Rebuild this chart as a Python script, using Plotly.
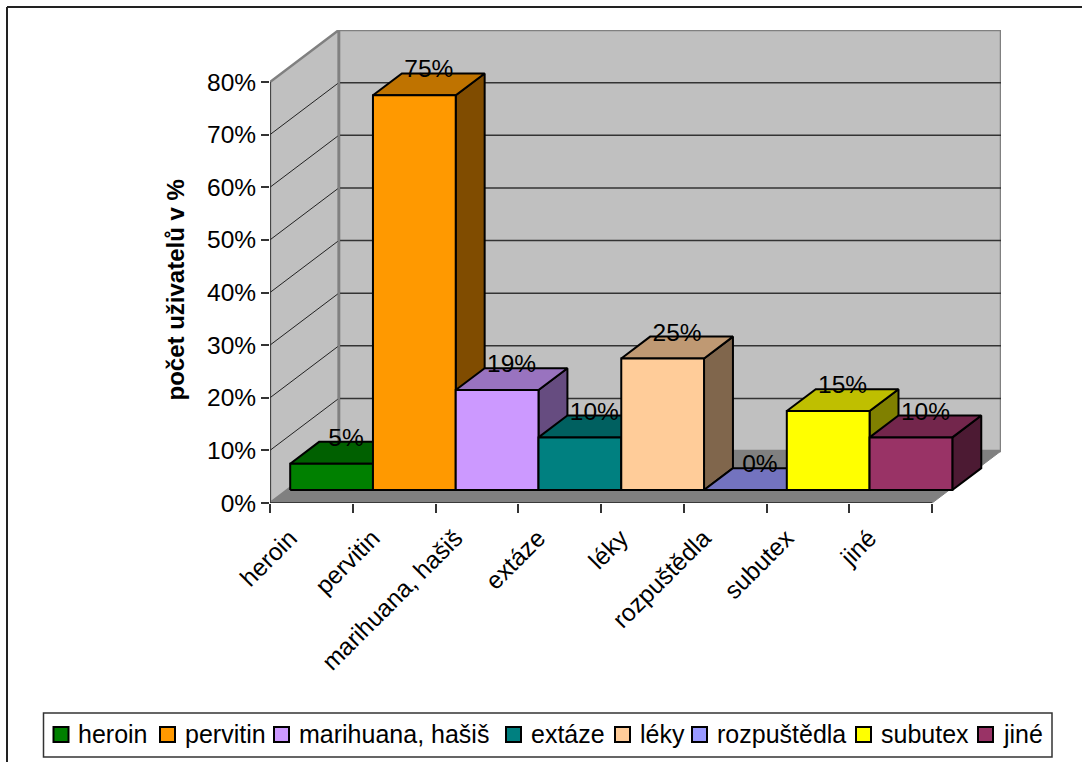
import plotly.graph_objects as go

categories = ["heroin", "pervitin", "marihuana, hašiš", "extáze", "léky",
              "rozpuštědla", "subutex", "jiné"]
values = [5, 75, 19, 10, 25, 0, 15, 10]
bar_colors = ["#008000", "#FF9900", "#CC99FF", "#008080", "#FFCC99",
              "#9999FF", "#FFFF00", "#993366"]
y_ticks = [0, 10, 20, 30, 40, 50, 60, 70, 80]
y_tick_labels = ["0%", "10%", "20%", "30%", "40%", "50%", "60%", "70%", "80%"]

WIDTH, HEIGHT = 1082, 762
PLOT_L, PLOT_R, PLOT_T, PLOT_B = 270, 1001, 30, 503

# Oblique projection: depth 0 is the front plane, depth 1 the back wall.
DEPTH_X = 0.832
DEPTH_Y = 9.88
X_MAX = len(categories) + DEPTH_X
Y_MAX = y_ticks[-1] + DEPTH_Y
BAR_FRONT, BAR_BACK = 0.25, 0.67
BAR_INSET = 0.036
FONT = "Liberation Sans"
INK = "#000000"
TEXT_SIZE = 24.5
LEGEND_SIZE = 25


def project(cat, val, depth):
    return cat + depth * DEPTH_X, val + depth * DEPTH_Y


def polygon(corners):
    pts = [project(*c) for c in corners]
    pts.append(pts[0])
    return [p[0] for p in pts], [p[1] for p in pts]


def shade(color, factor):
    r, g, b = (int(color[i:i + 2], 16) for i in (1, 3, 5))
    return f"rgb({round(r * factor)},{round(g * factor)},{round(b * factor)})"


def face(fig, corners, fill, line=INK, width=2):
    xs, ys = polygon(corners)
    fig.add_trace(go.Scatter(x=xs, y=ys, mode="lines", fill="toself", fillcolor=fill,
                             line=dict(color=line, width=width), cliponaxis=False,
                             hoverinfo="skip", showlegend=False))


def segment(fig, a, b, color, width):
    xs, ys = zip(project(*a), project(*b))
    fig.add_trace(go.Scatter(x=xs, y=ys, mode="lines", line=dict(color=color, width=width),
                             cliponaxis=False, hoverinfo="skip", showlegend=False))


fig = go.Figure()
n = len(categories)
top = y_ticks[-1]

# Walls and floor
face(fig, [(0, 0, 1), (n, 0, 1), (n, top, 1), (0, top, 1)], "#C0C0C0", "#808080", 2.5)
face(fig, [(0, 0, 0), (0, 0, 1), (0, top, 1), (0, top, 0)], "#C0C0C0", "#808080", 2.5)
face(fig, [(0, 0, 0), (n, 0, 0), (n, 0, 1), (0, 0, 1)], "#808080", "#808080", 1)

# Gridlines on the back and left walls
for tick in y_ticks[1:-1]:
    segment(fig, (0, tick, 1), (n, tick, 1), "#333333", 1.5)
    segment(fig, (0, tick, 0), (0, tick, 1), "#222222", 1)
segment(fig, (0, 0, 1), (0, top, 1), "#808080", 2.5)

# Axis lines
segment(fig, (0, 0, 0), (n, 0, 0), "#222222", 1.5)
segment(fig, (0, 0, 0), (0, top, 0), "#333333", 1.5)

# Columns, left to right so each one covers the side of its neighbour
for k, (val, col) in enumerate(zip(values, bar_colors)):
    x0, x1 = k + BAR_INSET, k + 1 + BAR_INSET
    face(fig, [(x1, 0, BAR_FRONT), (x1, 0, BAR_BACK), (x1, val, BAR_BACK), (x1, val, BAR_FRONT)],
         shade(col, 0.5))
    face(fig, [(x0, val, BAR_FRONT), (x1, val, BAR_FRONT), (x1, val, BAR_BACK), (x0, val, BAR_BACK)],
         shade(col, 0.75))
    face(fig, [(x0, 0, BAR_FRONT), (x1, 0, BAR_FRONT), (x1, val, BAR_FRONT), (x0, val, BAR_FRONT)],
         col)

# Value labels above each column
MID = (BAR_FRONT + BAR_BACK) / 2
LIFT = 0.4
fig.add_trace(go.Scatter(
    x=[project(k + 0.5 + BAR_INSET, 0, MID)[0] for k in range(n)],
    y=[project(0, v + LIFT, BAR_BACK)[1] for v in values],
    mode="text", text=[f"{v}%" for v in values], textposition="middle center",
    textfont=dict(family=FONT, size=TEXT_SIZE, color=INK), cliponaxis=False,
    hoverinfo="skip", showlegend=False))


def px_x(px):
    return (px - PLOT_L) / (PLOT_R - PLOT_L)


def px_y(py):
    return (PLOT_B - py) / (PLOT_B - PLOT_T)


shapes = [
    dict(type="line", xref="paper", yref="paper", x0=px_x(7), x1=px_x(7), y0=px_y(7), y1=px_y(HEIGHT),
         line=dict(color="#222222", width=2)),
    dict(type="line", xref="paper", yref="paper", x0=px_x(7), x1=px_x(WIDTH), y0=px_y(7), y1=px_y(7),
         line=dict(color="#222222", width=2)),
    dict(type="rect", xref="paper", yref="paper", x0=px_x(43.5), x1=px_x(1052), y0=px_y(757), y1=px_y(713),
         line=dict(color="#333333", width=1.5), fillcolor="white"),
]

# Value-axis title, set beside the tick labels
annotations = [dict(xref="paper", yref="paper", x=px_x(174.5), y=px_y(290), textangle=-90,
                    text="<b>počet uživatelů v %</b>", showarrow=False,
                    xanchor="center", yanchor="middle",
                    font=dict(family=FONT, size=24, color=INK))]

# Legend row along the bottom edge
swatch_left = [53.5, 160, 274, 506, 615, 692, 856, 978]
for left, name, col in zip(swatch_left, categories, bar_colors):
    shapes.append(dict(type="rect", xref="paper", yref="paper",
                       x0=px_x(left), x1=px_x(left + 15), y0=px_y(742), y1=px_y(727),
                       line=dict(color=INK, width=2), fillcolor=col))
    annotations.append(dict(xref="paper", yref="paper", x=px_x(left + 22.5), y=px_y(733.5),
                            text=name, showarrow=False, xanchor="left", yanchor="middle",
                            font=dict(family=FONT, size=LEGEND_SIZE, color=INK)))

fig.update_layout(
    width=WIDTH, height=HEIGHT,
    margin=dict(l=PLOT_L, r=WIDTH - PLOT_R, t=PLOT_T, b=HEIGHT - PLOT_B, pad=0),
    paper_bgcolor="white", plot_bgcolor="white",
    showlegend=False, shapes=shapes, annotations=annotations,
    font=dict(family=FONT, size=TEXT_SIZE, color=INK),
    xaxis=dict(
        range=[0, X_MAX], showgrid=False, zeroline=False, showline=False,
        tickmode="array", tickvals=[k + 0.24 for k in range(n)], ticktext=categories,
        tickangle=-45, ticks="", ticklen=0, ticklabelstandoff=15,
        tickfont=dict(family=FONT, size=TEXT_SIZE, color=INK),
        minor=dict(tickmode="array", tickvals=list(range(n + 1)), ticks="outside", ticklen=9,
                   tickcolor="#333333", tickwidth=1.5, showgrid=False),
    ),
    yaxis=dict(
        range=[0, Y_MAX], showgrid=False, zeroline=False, showline=False,
        tickmode="array", tickvals=y_ticks, ticktext=y_tick_labels, ticks="outside", ticklen=8,
        tickcolor="#333333", tickwidth=1.5, tickfont=dict(family=FONT, size=TEXT_SIZE, color=INK),
    ),
)

fig.write_html("out.html")
